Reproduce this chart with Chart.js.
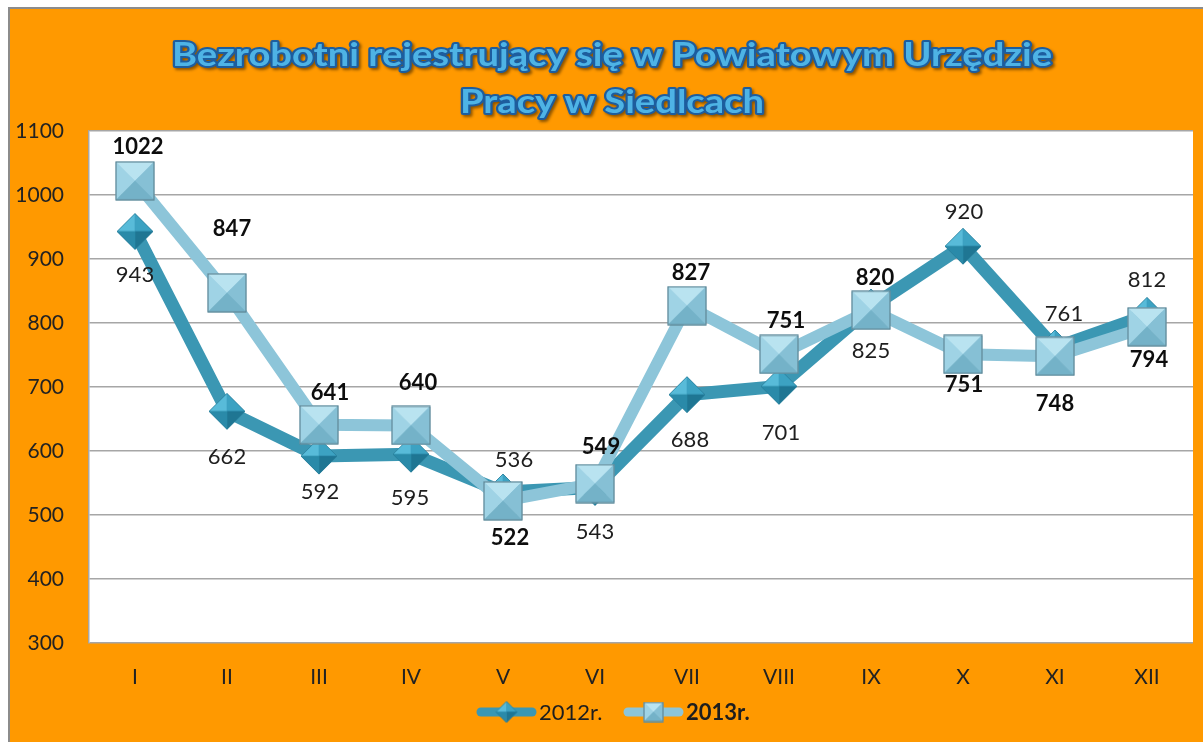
<!DOCTYPE html>
<html><head><meta charset="utf-8">
<script src="https://cdn.jsdelivr.net/npm/chart.js@4.4.1/dist/chart.umd.min.js"></script>
<style>html,body{margin:0;padding:0;background:#fff;overflow:hidden}#wrap{position:absolute;left:0;top:0;width:1203px;height:742px}</style>
</head><body><div id="wrap"><canvas id="c" width="1203" height="742"></canvas></div>
<script>
// ---- data ----
const titleLines = ['Bezrobotni rejestrujący się w Powiatowym Urzędzie', 'Pracy w Siedlcach'];
const months = ['I', 'II', 'III', 'IV', 'V', 'VI', 'VII', 'VIII', 'IX', 'X', 'XI', 'XII'];
const values2012 = [943, 662, 592, 595, 536, 543, 688, 701, 825, 920, 761, 812];
const values2013 = [1022, 847, 641, 640, 522, 549, 827, 751, 820, 751, 748, 794];
const seriesNames = ['2012r.', '2013r.'];
const yMin = 300, yMax = 1100, yStep = 100;

// ---- label placement (styling) ----
const lblDy2012 = [43, 46, 36, 44, -32, 44, 45, 47, 44, -34, -34, -35];
const lblDx2012 = [0, 0, 1, -1, 11, 0, 3, 2, 0, 1, 9, 0];
const lblDy2013 = [-34, -64, -32, -42, 37, -37, -33, -33, -32, 31, 48, 33];
const lblDx2013 = [3, 5, 11, 7, 7, 6, 4, 7, 4, 1, 0, 2];

const C2012 = '#3b97b3', C2013 = '#8dc5d9';
const FONT = 'Lato, "Open Sans", sans-serif';

function makeSquare(s) {
  const c = document.createElement('canvas'); c.width = c.height = s + 2;
  const g = c.getContext('2d'); const a = 1, b = s + 1, m = (s + 2) / 2;
  const tri = (p, col) => { g.beginPath(); g.moveTo(p[0], p[1]); g.lineTo(p[2], p[3]); g.lineTo(m, m); g.closePath(); g.fillStyle = col; g.fill(); g.strokeStyle = col; g.lineWidth = 0.6; g.stroke(); };
  tri([a, a, b, a], '#b9e3f0');
  tri([a, a, a, b], '#9fd3e5');
  tri([b, a, b, b], '#86c0d5');
  tri([a, b, b, b], '#74b2c8');
  g.strokeStyle = '#5f8797'; g.lineWidth = 1.2; g.strokeRect(a, a, s, s);
  return c;
}
function makeDiamond(s) {
  const c = document.createElement('canvas'); c.width = c.height = s + 2;
  const g = c.getContext('2d'); const m = (s + 2) / 2, r = s / 2;
  const T = [m, m - r], R = [m + r, m], B = [m, m + r], L = [m - r, m];
  const tri = (p, q, col) => { g.beginPath(); g.moveTo(p[0], p[1]); g.lineTo(q[0], q[1]); g.lineTo(m, m); g.closePath(); g.fillStyle = col; g.fill(); g.strokeStyle = col; g.lineWidth = 0.6; g.stroke(); };
  tri(L, T, '#58bbd9');
  tri(T, R, '#3ca2c2');
  tri(R, B, '#1f7693');
  tri(B, L, '#2a8aa9');
  g.strokeStyle = '#2a7f9a'; g.lineWidth = 0.8;
  g.beginPath(); g.moveTo(T[0], T[1]); g.lineTo(R[0], R[1]); g.lineTo(B[0], B[1]); g.lineTo(L[0], L[1]); g.closePath(); g.stroke();
  return c;
}
const sqImg = makeSquare(38), dmImg = makeDiamond(36);
const sqLeg = makeSquare(19), dmLeg = makeDiamond(21);

const framePlugin = {
  id: 'frame',
  beforeDraw(chart) {
    const ctx = chart.ctx, W = chart.width, H = chart.height, a = chart.chartArea;
    ctx.save();
    ctx.fillStyle = '#ffffff'; ctx.fillRect(0, 0, W, H);
    ctx.fillStyle = '#8c8c8c'; ctx.fillRect(8, 7, W - 8, 2); ctx.fillRect(8, 7, 2, H - 7);
    ctx.fillStyle = '#ff9900'; ctx.fillRect(10, 9, W - 10, H - 9);
    ctx.fillStyle = '#ffffff'; ctx.fillRect(a.left, a.top, a.right - a.left, a.bottom - a.top);
    // title
    ctx.font = 'bold 33px ' + FONT; ctx.textAlign = 'center'; ctx.textBaseline = 'alphabetic';
    ctx.lineJoin = 'round';
    const sx = 880 / ctx.measureText(titleLines[0]).width;
    const ys = [66, 113];
    titleLines.forEach((t, i) => {
      ctx.save();
      ctx.translate(612, ys[i]); ctx.scale(sx, 1);
      ctx.save();
      ctx.shadowColor = 'rgba(0,0,0,0.45)'; ctx.shadowOffsetX = 2; ctx.shadowOffsetY = 2; ctx.shadowBlur = 3;
      ctx.strokeStyle = '#1d5d9e'; ctx.lineWidth = 4;
      ctx.strokeText(t, 0, 0);
      ctx.restore();
      ctx.fillStyle = '#4eb3e5'; ctx.fillText(t, 0, 0);
      ctx.restore();
    });
    ctx.restore();
  },
  afterDatasetsDraw(chart) {
    const ctx = chart.ctx;
    ctx.save(); ctx.textAlign = 'center'; ctx.textBaseline = 'middle';
    const m12 = chart.getDatasetMeta(0), m13 = chart.getDatasetMeta(1);
    ctx.fillStyle = '#1e1e1e'; ctx.font = '22px ' + FONT;
    m12.data.forEach((p, i) => ctx.fillText(String(values2012[i]), p.x + lblDx2012[i], p.y + lblDy2012[i]));
    ctx.fillStyle = '#0d0d0d'; ctx.font = 'bold 22px ' + FONT;
    m13.data.forEach((p, i) => ctx.fillText(String(values2013[i]), p.x + lblDx2013[i], p.y + lblDy2013[i]));
    // legend
    const ly = 712;
    const item = (x0, x1, col, img, text, bold) => {
      ctx.strokeStyle = col; ctx.lineWidth = 9; ctx.lineCap = 'round';
      ctx.beginPath(); ctx.moveTo(x0 + 4, ly); ctx.lineTo(x1 - 4, ly); ctx.stroke();
      ctx.drawImage(img, (x0 + x1) / 2 - img.width / 2, ly - img.height / 2);
      ctx.fillStyle = '#1e1e1e'; ctx.font = (bold ? 'bold ' : '') + '22px ' + FONT;
      ctx.textAlign = 'left'; ctx.fillText(text, x1 + 3, ly + 1);
    };
    item(477, 536, C2012, dmLeg, seriesNames[0], false);
    item(624, 683, C2013, sqLeg, seriesNames[1], true);
    ctx.restore();
  }
};

new Chart(document.getElementById('c'), {
  type: 'line',
  data: {
    labels: months,
    datasets: [
      { label: seriesNames[0], data: values2012, borderColor: C2012, backgroundColor: C2012, borderWidth: 13,
        pointStyle: dmImg, pointRadius: 18, order: 2, borderCapStyle: 'round', borderJoinStyle: 'round', tension: 0 },
      { label: seriesNames[1], data: values2013, borderColor: C2013, backgroundColor: C2013, borderWidth: 12,
        pointStyle: sqImg, pointRadius: 20, order: 1, borderCapStyle: 'round', borderJoinStyle: 'round', tension: 0 }
    ]
  },
  options: {
    responsive: false, animation: false, devicePixelRatio: 1, events: [],
    layout: { autoPadding: false, padding: { left: 10, right: 10, top: 131, bottom: 49 } },
    plugins: { legend: { display: false }, title: { display: false }, tooltip: { enabled: false } },
    scales: {
      x: {
        offset: true,
        grid: { display: true, drawOnChartArea: false, drawTicks: true, tickLength: 22, tickColor: 'rgba(0,0,0,0)' },
        border: { display: false },
        ticks: { color: '#222', font: { family: FONT, size: 21 }, padding: 0 },
        afterFit(s) { s.height = 50; s.paddingLeft = 0; s.paddingRight = 0; }
      },
      y: {
        min: yMin, max: yMax,
        grid: { color: '#a6a6a6', lineWidth: 1.5, drawTicks: false },
        border: { display: true, color: '#a6a6a6', width: 1.5 },
        ticks: { stepSize: yStep, color: '#222', font: { family: FONT, size: 21 }, padding: 25,
                 callback: (v) => String(v) },
        afterFit(s) { s.width = 79; }
      }
    }
  },
  plugins: [framePlugin]
});
</script></body></html>
